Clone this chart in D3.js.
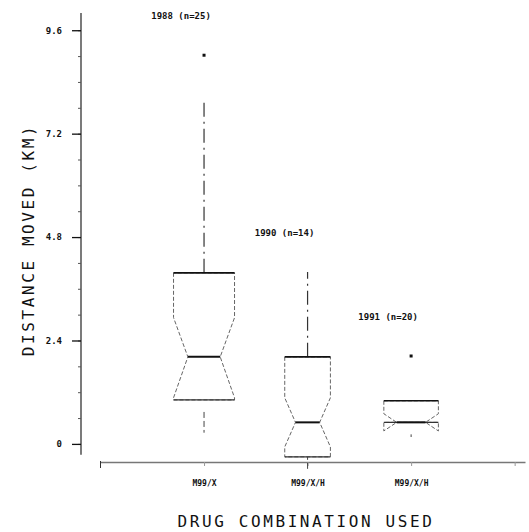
<!DOCTYPE html>
<html>
<head>
<meta charset="utf-8">
<script src="https://cdn.jsdelivr.net/npm/d3@7"></script>
<style>
  body { margin: 0; background: #fff; }
  svg text { font-family: "DejaVu Sans Mono", "Liberation Mono", monospace; fill: #111; }
  .small { font-size: 9px; font-weight: bold; }
  .title { font-size: 16px; letter-spacing: 2.6px; }
</style>
</head>
<body>
<div id="viz"></div>
<script>
// ---- data ----
var categories  = ["M99/X", "M99/X/H", "M99/X/H"];
var groupLabels = ["1988 (n=25)", "1990 (n=14)", "1991 (n=20)"];
var sampleSize  = [25, 14, 20];
var lowWhisker  = [0.26, -0.30, 0.16];
var q1          = [1.02, -0.30, 0.50];
var median      = [2.02, 0.50, 0.50];
var q3          = [3.97, 2.02, 1.00];
var highWhisker = [7.98, 3.99, 1.00];
var notchLo     = [1.07, -0.07, 0.30];
var notchHi     = [2.93, 1.07, 0.70];
var outliers    = [[9.02], [], [2.04]];
var yTicks      = [0, 2.4, 4.8, 7.2, 9.6];
var yMinor      = d3.range(0, 10.0, 0.6);

var width = 529, height = 532;

var svg = d3.select("#viz").append("svg")
    .attr("width", width)
    .attr("height", height);

// scales
var x = d3.scaleLinear().domain([0, 4.1]).range([100.5, 525]);
var y = d3.scaleLinear().domain([-0.42, 10]).range([462, 13]);
var boxW = d3.scaleSqrt().domain([0, 25]).range([0, 61]);

// y axis
var yAxisX = 81;
svg.append("line")
    .attr("x1", yAxisX).attr("x2", yAxisX)
    .attr("y1", y(10)).attr("y2", y(-0.25))
    .attr("stroke", "#222").attr("stroke-width", 1.2);

svg.append("g")
    .attr("transform", "translate(" + yAxisX + ",0)")
    .call(d3.axisLeft(y).tickValues(yMinor).tickSize(3).tickFormat(""))
    .call(function(g){ g.select(".domain").remove(); })
    .selectAll("line").attr("stroke", "#555");

svg.append("g")
    .attr("transform", "translate(" + yAxisX + ",0)")
    .call(d3.axisLeft(y).tickValues(yTicks).tickSize(9).tickPadding(10)
        .tickFormat(function(d){ return d === 0 ? "0" : d.toFixed(1); }))
    .call(function(g){
        g.select(".domain").remove();
        g.selectAll("line").attr("stroke", "#111").attr("stroke-width", 1.3);
        g.selectAll("text").attr("class", "small").attr("font-family", null).attr("font-size", null);
    });

// x axis
svg.append("g")
    .attr("transform", "translate(0," + y(-0.42) + ")")
    .call(d3.axisBottom(x).tickValues([1, 2, 3, 4]).tickSize(4).tickSizeOuter(0).tickPadding(14)
        .tickFormat(function(i){ return categories[i - 1] || ""; }))
    .call(function(g){
        g.select(".domain").attr("stroke", "#777").attr("stroke-width", 1.6);
        g.selectAll("line").attr("stroke", "#999");
        g.selectAll("text").attr("class", "small").attr("font-family", null).attr("font-size", null)
            .style("font-size", "8px");
    });

svg.append("line")
    .attr("x1", x(0)).attr("x2", x(0))
    .attr("y1", y(-0.42) - 1).attr("y2", y(-0.42) + 6)
    .attr("stroke", "#333");

// boxes
var groups = categories.map(function(c, i){ return i; });

groups.forEach(function(i){
    var cx = x(i + 1);
    var half = boxW(sampleSize[i]) / 2;
    var nh = half * 0.53;
    var L = cx - half, R = cx + half;

    // whiskers
    svg.append("line")
        .attr("x1", cx).attr("x2", cx)
        .attr("y1", y(q3[i])).attr("y2", y(highWhisker[i]))
        .attr("stroke", "#333").attr("stroke-width", 1.2)
        .attr("stroke-dasharray", "14,5,2,5");
    svg.append("line")
        .attr("x1", cx).attr("x2", cx)
        .attr("y1", y(q1[i]) + 12).attr("y2", y(lowWhisker[i]))
        .attr("stroke", "#444").attr("stroke-width", 1)
        .attr("stroke-dasharray", "6,3");

    // notched outline
    var pts = [
        [L, y(q3[i])], [L, y(notchHi[i])], [cx - nh, y(median[i])], [L, y(notchLo[i])], [L, y(q1[i])],
        [R, y(q1[i])], [R, y(notchLo[i])], [cx + nh, y(median[i])], [R, y(notchHi[i])], [R, y(q3[i])]
    ];
    svg.append("path")
        .attr("d", d3.line()(pts) + "Z")
        .attr("fill", "none")
        .attr("stroke", "#666").attr("stroke-width", 1)
        .attr("stroke-dasharray", "4,2");

    // hinges and median
    svg.append("line")
        .attr("x1", L).attr("x2", R)
        .attr("y1", y(q3[i])).attr("y2", y(q3[i]))
        .attr("stroke", "#111").attr("stroke-width", 1.6);
    svg.append("line")
        .attr("x1", L).attr("x2", R)
        .attr("y1", y(q1[i])).attr("y2", y(q1[i]))
        .attr("stroke", "#333").attr("stroke-width", 1.2);
    svg.append("line")
        .attr("x1", cx - nh).attr("x2", cx + nh)
        .attr("y1", y(median[i])).attr("y2", y(median[i]))
        .attr("stroke", "#111").attr("stroke-width", 2);

    // outliers
    svg.selectAll(null).data(outliers[i]).enter().append("rect")
        .attr("x", cx - 1.5).attr("y", function(d){ return y(d) - 1.5; })
        .attr("width", 3).attr("height", 3)
        .attr("fill", "#111");

    // group label
    var top = d3.max([highWhisker[i]].concat(outliers[i]));
    svg.append("text")
        .attr("class", "small")
        .attr("x", cx - 23)
        .attr("y", y(top) - 36)
        .attr("text-anchor", "middle")
        .text(groupLabels[i]);
});

// axis titles
svg.append("text")
    .attr("class", "title")
    .attr("transform", "translate(34,240) rotate(-90)")
    .attr("text-anchor", "middle")
    .text("DISTANCE MOVED (KM)");

svg.append("text")
    .attr("class", "title")
    .attr("x", 306)
    .attr("y", 527)
    .attr("text-anchor", "middle")
    .text("DRUG COMBINATION USED");
</script>
</body>
</html>
